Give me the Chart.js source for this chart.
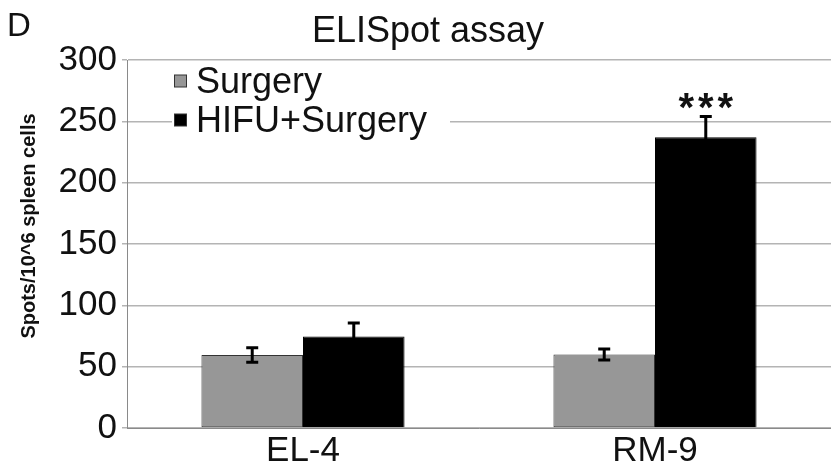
<!DOCTYPE html>
<html>
<head>
<meta charset="utf-8">
<script src="https://cdn.jsdelivr.net/npm/chart.js@4/dist/chart.umd.min.js"></script>
<style>
  html, body { margin: 0; padding: 0; background: #fff; }
  #wrap { width: 831px; height: 467px; position: relative; }
</style>
</head>
<body>
<div id="wrap"><canvas id="c"></canvas></div>
<script>
// ELISpot counts per cell line (mean and error)
const categories = ['EL-4', 'RM-9'];
const seriesNames = ['Surgery', 'HIFU+Surgery'];
const surgery = [59.5, 60];
const surgeryErr = [6, 4.5];
const hifuSurgery = [74.5, 237];
const hifuSurgeryErr = [11, 17];
const hifuSignificance = ['', '***'];
const yMin = 0, yMax = 300, yStep = 50;

const FONT = '"Liberation Sans", Arial, Helvetica, sans-serif';
const INK = '#111';

// Error bars on top of each bar, plus significance stars
const errorBars = {
  id: 'errorBars',
  afterDatasetsDraw(chart) {
    const ctx = chart.ctx;
    const ys = chart.scales.y;
    chart.data.datasets.forEach((ds, i) => {
      const meta = chart.getDatasetMeta(i);
      meta.data.forEach((bar, j) => {
        const v = ds.data[j], e = ds.errors[j];
        const yt = ys.getPixelForValue(v + e);
        const yb = ys.getPixelForValue(v - e);
        ctx.save();
        ctx.strokeStyle = '#000';
        ctx.lineWidth = 3;
        ctx.beginPath();
        ctx.moveTo(bar.x, yt); ctx.lineTo(bar.x, yb);
        ctx.moveTo(bar.x - 6, yt); ctx.lineTo(bar.x + 6, yt);
        ctx.moveTo(bar.x - 6, yb); ctx.lineTo(bar.x + 6, yb);
        ctx.stroke();
        ctx.restore();
        if (ds.marks && ds.marks[j]) {
          ctx.save();
          ctx.fillStyle = INK;
          ctx.font = 'bold 40px ' + FONT;
          ctx.letterSpacing = '4px';
          ctx.textAlign = 'center';
          ctx.textBaseline = 'alphabetic';
          ctx.fillText(ds.marks[j], bar.x + 2, yt + 5);
          ctx.restore();
        }
      });
    });
  }
};

// Title, panel letter, axis title and in-plot legend
const decorations = {
  id: 'decorations',
  afterDraw(chart) {
    const ctx = chart.ctx;
    ctx.save();
    ctx.fillStyle = INK;
    ctx.textBaseline = 'alphabetic';

    ctx.font = '33px ' + FONT;
    ctx.textAlign = 'left';
    ctx.fillText('D', 7, 36);

    ctx.font = '36px ' + FONT;
    ctx.textAlign = 'center';
    ctx.fillText('ELISpot assay', 428, 42);

    ctx.save();
    ctx.translate(35, 226);
    ctx.rotate(-Math.PI / 2);
    ctx.font = 'bold 20px ' + FONT;
    ctx.textAlign = 'center';
    ctx.fillText('Spots/10^6 spleen cells', 0, 0);
    ctx.restore();

    // legend box
    ctx.fillStyle = '#fff';
    ctx.fillRect(172, 64, 278, 78);
    const rows = [81, 120];
    chart.data.datasets.forEach((ds, i) => {
      const cy = rows[i];
      ctx.fillStyle = ds.backgroundColor;
      ctx.fillRect(174.5, cy - 6, 12, 12);
      ctx.strokeStyle = '#333';
      ctx.lineWidth = 1;
      ctx.strokeRect(174.5, cy - 6, 12, 12);
      ctx.fillStyle = INK;
      ctx.font = '36px ' + FONT;
      ctx.textAlign = 'left';
      ctx.textBaseline = 'alphabetic';
      ctx.fillText(ds.label, 196, cy + 12);
    });
    ctx.restore();
  }
};

new Chart(document.getElementById('c'), {
  type: 'bar',
  data: {
    labels: categories,
    datasets: [
      {
        label: seriesNames[0],
        data: surgery,
        errors: surgeryErr,
        backgroundColor: '#979797',
        borderColor: '#333',
        borderWidth: 1,
        borderSkipped: false,
        categoryPercentage: 0.577,
        barPercentage: 1.0
      },
      {
        label: seriesNames[1],
        data: hifuSurgery,
        errors: hifuSurgeryErr,
        marks: hifuSignificance,
        backgroundColor: '#000',
        borderColor: '#000',
        borderWidth: 1,
        categoryPercentage: 0.577,
        barPercentage: 1.0
      }
    ]
  },
  options: {
    responsive: true,
    maintainAspectRatio: false,
    animation: false,
    events: [],
    layout: { padding: { top: 60, right: 0, left: 0, bottom: 0 } },
    plugins: {
      legend: { display: false },
      title: { display: false },
      tooltip: { enabled: false }
    },
    scales: {
      x: {
        grid: { display: false, drawTicks: false },
        border: { display: true, color: '#8a8a8a', width: 1 },
        ticks: { color: INK, font: { family: FONT, size: 35 }, padding: 2 },
        afterFit(s) { s.height = 39; }
      },
      y: {
        min: yMin, max: yMax,
        ticks: { stepSize: yStep, color: INK, font: { family: FONT, size: 35 }, padding: 5 },
        grid: { color: '#b4b4b4', lineWidth: 1.5, tickLength: 5 },
        border: { display: true, color: '#8a8a8a', width: 1 },
        afterFit(s) { s.width = 127; }
      }
    }
  },
  plugins: [errorBars, decorations]
});
</script>
</body>
</html>
